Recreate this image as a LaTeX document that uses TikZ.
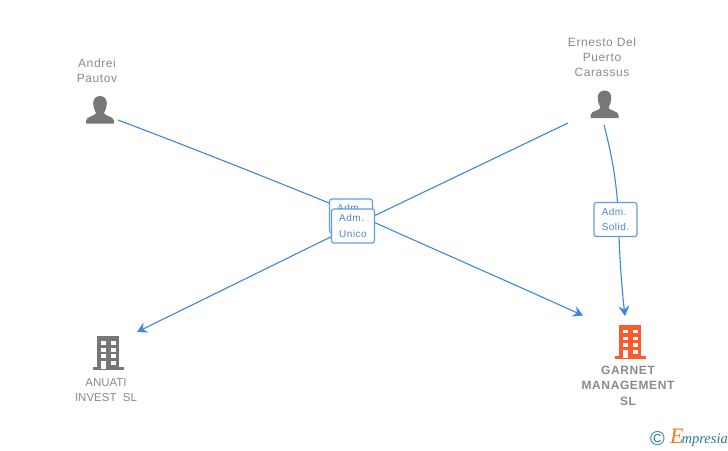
\documentclass[tikz,border=0pt]{standalone}
\usepackage{fontspec}
\setmainfont{Liberation Sans}
\newfontfamily\spaced[LetterSpace=5]{Liberation Sans}
\newfontfamily\logofont{Liberation Serif}
\usetikzlibrary{arrows.meta,backgrounds}
\definecolor{linkblue}{HTML}{3D85E0}
\definecolor{boxblue}{HTML}{5F9BE6}
\definecolor{lbltext}{HTML}{4A86D8}
\definecolor{icongray}{HTML}{777777}
\definecolor{txtgray}{HTML}{8A8A8A}
\definecolor{orangeb}{HTML}{FF5A2C}
\definecolor{logoteal}{HTML}{2A7C92}
\definecolor{logoorange}{HTML}{EE7A14}
\tikzset{
  persontext/.style={font=\spaced\fontsize{12}{15}\selectfont,text=txtgray,align=center,inner sep=0pt},
  smallcompany/.style={font=\fontsize{11.5}{15}\selectfont,text=txtgray,align=center,inner sep=0pt},
  companytext/.style={font=\spaced\fontsize{12}{15.5}\selectfont\bfseries,text=txtgray,align=center,inner sep=0pt},
  rolebox/.style={draw=boxblue,line width=1.1pt,fill=white,rounded corners=2.5pt,minimum width=43pt,minimum height=34pt,inner sep=0pt,align=left,text=lbltext,font=\spaced\fontsize{10}{15.5}\selectfont},
  link/.style={draw=linkblue,line width=1.1pt},
  arrowlink/.style={link,-{Stealth[length=10pt,width=11pt,inset=3.5pt]}},
  pics/personicon/.style={code={
    \fill[icongray] (-6.8,-6.5) .. controls (-6.8,-11) and (-3.5,-13.5) .. (0,-13.5) .. controls (3.5,-13.5) and (6.8,-11) .. (6.8,-6.5)
      .. controls (6.8,-2) and (5,1.5) .. (4,3.5) .. controls (4,6.5) and (13.5,6.5) .. (14,11) -- (14,14) -- (-14,14) -- (-14,11)
      .. controls (-13.5,6.5) and (-4,6.5) .. (-4,3.5) .. controls (-5,1.5) and (-6.8,-2) .. (-6.8,-6.5) -- cycle;
  }},
  pics/buildingicon/.style={code={
    \fill[#1] (-11,0) rectangle (11,31);
    \fill[#1] (-15.5,31) rectangle (15.5,34);
    \foreach \y/\h in {5/3.5,12/3.5,18/4}{
      \fill[white] (-7,\y) rectangle ++(4.5,\h);
      \fill[white] (2.5,\y) rectangle ++(5,\h);
    }
    \fill[white] (-7,25) rectangle (-2.5,33);
    \fill[white] (2.5,25) rectangle (7.5,29);
  }},
}
\begin{document}
\begin{tikzpicture}[x=1pt,y=-1pt]
\useasboundingbox (0,0) rectangle (728,450);
% names
\node[persontext] (andreiname) at (97,70.5) {Andrei\\Pautov};
\node[persontext] (ernestoname) at (602,57) {Ernesto Del\\Puerto\\Carassus};
\node[smallcompany] (anuatiname) at (106,390) {ANUATI\\INVEST\ \ SL};
\node[companytext] (garnetname) at (628,385.5) {GARNET\\MANAGEMENT\\SL};
% icons
\pic at (100,109.5) {personicon};
\pic at (604.5,104) {personicon};
\pic at (108,336) {buildingicon=icongray};
\pic at (630,324.5) {buildingicon=orangeb};
% role boxes
\node[rolebox] (lblback) at (351,216) {Adm.\\Unico};
\node[rolebox] (lblfront) at (353,226) {Adm.\\Unico};
\node[rolebox] (lblsolid) at (615.5,219.5) {Adm.\\Solid.};
% connector ends
\coordinate (andreiout) at (118,120);
\coordinate (ernestoout) at (568,123);
\coordinate (ernestoout2) at (604,125);
\coordinate (anuatiin) at (137,332);
\coordinate (garnetin1) at (583,315.5);
\coordinate (garnetin2) at (625,316);
\coordinate (viaback) at (351,212);
\coordinate (viasolid) at (618.5,220);
\begin{pgfonlayer}{background}
\draw[arrowlink] (andreiout) .. controls (200,151) and (290,187) .. (viaback) .. controls (420,243) and (500,278) .. (garnetin1);
\draw[arrowlink] (ernestoout) -- (lblfront.center) -- (anuatiin);
\draw[arrowlink] (ernestoout2) .. controls (611,152) and (617,180) .. (viasolid) .. controls (619.5,260) and (622,290) .. (garnetin2);
\end{pgfonlayer}
% logo
\node[inner sep=0pt,text=logoteal,font=\fontsize{20}{20}\selectfont] (copyr) at (657.5,438.5) {©};
\node[inner sep=0pt,anchor=base west,font=\logofont\itshape\fontsize{14.5}{14}\selectfont,text=logoteal] (logo) at (670,443) {{\color{logoorange}\fontsize{22}{22}\selectfont E}\kern-2pt mpresia};
\end{tikzpicture}
\end{document}
